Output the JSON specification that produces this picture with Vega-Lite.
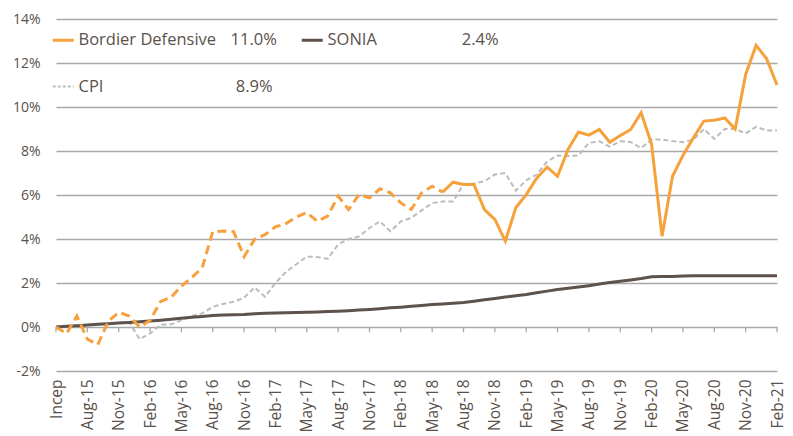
{
  "$schema": "https://vega.github.io/schema/vega-lite/v6.json",
  "width": 721,
  "height": 352,
  "autosize": {"type": "none"},
  "padding": {"left": 56, "top": 19, "right": 16, "bottom": 65},
  "config": {
    "view": {"stroke": null},
    "font": "Open Sans",
    "axis": {"labelFont": "Open Sans", "labelColor": "#5a514b", "labelFontSize": 14, "title": null}
  },
  "data": {
    "values": [
      {"m": "Incep", "i": 0, "Bordier Defensive": 0.0, "CPI": 0.0, "SONIA": 0.0},
      {"m": "Jun-15", "i": 1, "Bordier Defensive": -0.3, "CPI": 0.05, "SONIA": 0.03},
      {"m": "Jul-15", "i": 2, "Bordier Defensive": 0.5, "CPI": 0.0, "SONIA": 0.06},
      {"m": "Aug-15", "i": 3, "Bordier Defensive": -0.55, "CPI": 0.1, "SONIA": 0.09},
      {"m": "Sep-15", "i": 4, "Bordier Defensive": -0.8, "CPI": 0.12, "SONIA": 0.12},
      {"m": "Oct-15", "i": 5, "Bordier Defensive": 0.25, "CPI": 0.15, "SONIA": 0.15},
      {"m": "Nov-15", "i": 6, "Bordier Defensive": 0.67, "CPI": 0.2, "SONIA": 0.18},
      {"m": "Dec-15", "i": 7, "Bordier Defensive": 0.5, "CPI": 0.22, "SONIA": 0.21},
      {"m": "Jan-16", "i": 8, "Bordier Defensive": 0.0, "CPI": -0.55, "SONIA": 0.24},
      {"m": "Feb-16", "i": 9, "Bordier Defensive": 0.3, "CPI": -0.3, "SONIA": 0.27},
      {"m": "Mar-16", "i": 10, "Bordier Defensive": 1.15, "CPI": 0.1, "SONIA": 0.31},
      {"m": "Apr-16", "i": 11, "Bordier Defensive": 1.35, "CPI": 0.12, "SONIA": 0.35},
      {"m": "May-16", "i": 12, "Bordier Defensive": 1.85, "CPI": 0.3, "SONIA": 0.4},
      {"m": "Jun-16", "i": 13, "Bordier Defensive": 2.25, "CPI": 0.5, "SONIA": 0.44},
      {"m": "Jul-16", "i": 14, "Bordier Defensive": 2.7, "CPI": 0.62, "SONIA": 0.48},
      {"m": "Aug-16", "i": 15, "Bordier Defensive": 4.33, "CPI": 0.92, "SONIA": 0.52},
      {"m": "Sep-16", "i": 16, "Bordier Defensive": 4.36, "CPI": 1.05, "SONIA": 0.55},
      {"m": "Oct-16", "i": 17, "Bordier Defensive": 4.33, "CPI": 1.15, "SONIA": 0.56},
      {"m": "Nov-16", "i": 18, "Bordier Defensive": 3.2, "CPI": 1.33, "SONIA": 0.57},
      {"m": "Dec-16", "i": 19, "Bordier Defensive": 3.98, "CPI": 1.8, "SONIA": 0.6},
      {"m": "Jan-17", "i": 20, "Bordier Defensive": 4.2, "CPI": 1.37, "SONIA": 0.62},
      {"m": "Feb-17", "i": 21, "Bordier Defensive": 4.55, "CPI": 2.0, "SONIA": 0.64},
      {"m": "Mar-17", "i": 22, "Bordier Defensive": 4.7, "CPI": 2.5, "SONIA": 0.65},
      {"m": "Apr-17", "i": 23, "Bordier Defensive": 5.0, "CPI": 2.85, "SONIA": 0.66},
      {"m": "May-17", "i": 24, "Bordier Defensive": 5.2, "CPI": 3.2, "SONIA": 0.67},
      {"m": "Jun-17", "i": 25, "Bordier Defensive": 4.81, "CPI": 3.18, "SONIA": 0.68},
      {"m": "Jul-17", "i": 26, "Bordier Defensive": 5.04, "CPI": 3.1, "SONIA": 0.7},
      {"m": "Aug-17", "i": 27, "Bordier Defensive": 5.95, "CPI": 3.75, "SONIA": 0.72},
      {"m": "Sep-17", "i": 28, "Bordier Defensive": 5.34, "CPI": 4.0, "SONIA": 0.74},
      {"m": "Oct-17", "i": 29, "Bordier Defensive": 6.02, "CPI": 4.12, "SONIA": 0.77},
      {"m": "Nov-17", "i": 30, "Bordier Defensive": 5.87, "CPI": 4.5, "SONIA": 0.8},
      {"m": "Dec-17", "i": 31, "Bordier Defensive": 6.28, "CPI": 4.8, "SONIA": 0.83},
      {"m": "Jan-18", "i": 32, "Bordier Defensive": 6.1, "CPI": 4.35, "SONIA": 0.87},
      {"m": "Feb-18", "i": 33, "Bordier Defensive": 5.64, "CPI": 4.8, "SONIA": 0.9},
      {"m": "Mar-18", "i": 34, "Bordier Defensive": 5.34, "CPI": 4.96, "SONIA": 0.94},
      {"m": "Apr-18", "i": 35, "Bordier Defensive": 6.1, "CPI": 5.3, "SONIA": 0.98},
      {"m": "May-18", "i": 36, "Bordier Defensive": 6.4, "CPI": 5.64, "SONIA": 1.02},
      {"m": "Jun-18", "i": 37, "Bordier Defensive": 6.13, "CPI": 5.7, "SONIA": 1.05},
      {"m": "Jul-18", "i": 38, "Bordier Defensive": 6.58, "CPI": 5.7, "SONIA": 1.08},
      {"m": "Aug-18", "i": 39, "Bordier Defensive": 6.48, "CPI": 6.5, "SONIA": 1.11},
      {"m": "Sep-18", "i": 40, "Bordier Defensive": 6.48, "CPI": 6.52, "SONIA": 1.17},
      {"m": "Oct-18", "i": 41, "Bordier Defensive": 5.34, "CPI": 6.63, "SONIA": 1.24},
      {"m": "Nov-18", "i": 42, "Bordier Defensive": 4.89, "CPI": 6.93, "SONIA": 1.3},
      {"m": "Dec-18", "i": 43, "Bordier Defensive": 3.9, "CPI": 7.0, "SONIA": 1.36},
      {"m": "Jan-19", "i": 44, "Bordier Defensive": 5.42, "CPI": 6.2, "SONIA": 1.42},
      {"m": "Feb-19", "i": 45, "Bordier Defensive": 6.02, "CPI": 6.67, "SONIA": 1.48},
      {"m": "Mar-19", "i": 46, "Bordier Defensive": 6.76, "CPI": 6.93, "SONIA": 1.56},
      {"m": "Apr-19", "i": 47, "Bordier Defensive": 7.27, "CPI": 7.52, "SONIA": 1.63},
      {"m": "May-19", "i": 48, "Bordier Defensive": 6.85, "CPI": 7.8, "SONIA": 1.7},
      {"m": "Jun-19", "i": 49, "Bordier Defensive": 8.07, "CPI": 7.77, "SONIA": 1.76},
      {"m": "Jul-19", "i": 50, "Bordier Defensive": 8.86, "CPI": 7.8, "SONIA": 1.82},
      {"m": "Aug-19", "i": 51, "Bordier Defensive": 8.72, "CPI": 8.37, "SONIA": 1.88},
      {"m": "Sep-19", "i": 52, "Bordier Defensive": 8.98, "CPI": 8.44, "SONIA": 1.95},
      {"m": "Oct-19", "i": 53, "Bordier Defensive": 8.4, "CPI": 8.2, "SONIA": 2.02},
      {"m": "Nov-19", "i": 54, "Bordier Defensive": 8.7, "CPI": 8.44, "SONIA": 2.08},
      {"m": "Dec-19", "i": 55, "Bordier Defensive": 8.98, "CPI": 8.41, "SONIA": 2.14},
      {"m": "Jan-20", "i": 56, "Bordier Defensive": 9.74, "CPI": 8.14, "SONIA": 2.2},
      {"m": "Feb-20", "i": 57, "Bordier Defensive": 8.3, "CPI": 8.52, "SONIA": 2.28},
      {"m": "Mar-20", "i": 58, "Bordier Defensive": 4.13, "CPI": 8.52, "SONIA": 2.3},
      {"m": "Apr-20", "i": 59, "Bordier Defensive": 6.85, "CPI": 8.45, "SONIA": 2.3},
      {"m": "May-20", "i": 60, "Bordier Defensive": 7.8, "CPI": 8.4, "SONIA": 2.32},
      {"m": "Jun-20", "i": 61, "Bordier Defensive": 8.6, "CPI": 8.52, "SONIA": 2.33},
      {"m": "Jul-20", "i": 62, "Bordier Defensive": 9.36, "CPI": 9.0, "SONIA": 2.33},
      {"m": "Aug-20", "i": 63, "Bordier Defensive": 9.4, "CPI": 8.55, "SONIA": 2.33},
      {"m": "Sep-20", "i": 64, "Bordier Defensive": 9.5, "CPI": 9.0, "SONIA": 2.33},
      {"m": "Oct-20", "i": 65, "Bordier Defensive": 9.0, "CPI": 9.0, "SONIA": 2.33},
      {"m": "Nov-20", "i": 66, "Bordier Defensive": 11.48, "CPI": 8.8, "SONIA": 2.33},
      {"m": "Dec-20", "i": 67, "Bordier Defensive": 12.8, "CPI": 9.1, "SONIA": 2.33},
      {"m": "Jan-21", "i": 68, "Bordier Defensive": 12.2, "CPI": 8.93, "SONIA": 2.33},
      {"m": "Feb-21", "i": 69, "Bordier Defensive": 11.0, "CPI": 8.93, "SONIA": 2.33}
    ]
  },
  "transform": [{"fold": ["Bordier Defensive", "SONIA", "CPI"], "as": ["series", "v"]}],
  "resolve": {"axis": {"x": "independent"}},
  "layer": [
    {
      "transform": [{"filter": "datum.series === 'SONIA' && datum.i % 3 === 0"}],
      "mark": {"type": "rule", "color": "#a8a8a8", "strokeWidth": 1.3},
      "encoding": {
        "x": {"field": "i", "type": "quantitative", "axis": null},
        "y": {"datum": 0, "type": "quantitative"},
        "y2": {"datum": -0.24}
      }
    },
    {
      "transform": [{"filter": "datum.series === 'CPI'"}],
      "mark": {"type": "line", "strokeWidth": 2, "strokeDash": [5, 3]},
      "encoding": {
        "x": {
          "field": "i", "type": "quantitative",
          "scale": {"domain": [0, 69], "nice": false, "zero": false},
          "axis": {
            "orient": "bottom",
            "values": [0, 3, 6, 9, 12, 15, 18, 21, 24, 27, 30, 33, 36, 39, 42, 45, 48, 51, 54, 57, 60, 63, 66, 69],
            "labelExpr": "datum.value == 0 ? 'Incep' : ['Jan','Feb','Mar','Apr','May','Jun','Jul','Aug','Sep','Oct','Nov','Dec'][(datum.value + 4) % 12] + '-' + (15 + floor((datum.value + 4) / 12))",
            "labelAngle": -90, "labelPadding": 8, "ticks": false, "domain": false, "grid": false,
            "labelOverlap": false, "labelFontSize": 15.5
          }
        },
        "y": {
          "field": "v", "type": "quantitative",
          "scale": {"domain": [-2, 14], "nice": false, "zero": false},
          "axis": {
            "values": [-2, 0, 2, 4, 6, 8, 10, 12, 14],
            "labelExpr": "datum.value + '%'",
            "grid": true, "gridColor": "#a8a8a8", "gridWidth": 1.3,
            "domain": false, "ticks": false, "labelPadding": 16
          }
        },
        "color": {
          "field": "series", "type": "nominal",
          "scale": {"domain": ["Bordier Defensive", "SONIA", "CPI"], "range": ["#F6A13C", "#5d524c", "#bcbcbc"]},
          "legend": {
            "orient": "none", "legendX": -1, "legendY": 12.75,
            "direction": "horizontal", "columns": 2, "title": null,
            "symbolType": "stroke", "symbolSize": 441, "symbolStrokeWidth": 3,
            "labelFontSize": 16.5, "labelColor": "#5a514b", "labelFont": "Open Sans",
            "labelOffset": 7, "columnPadding": 78, "rowPadding": 29.5, "padding": 0,
            "encode": {"symbols": {"update": {"strokeDash": {"signal": "datum.value === 'CPI' ? [3, 2] : [1, 0]"}, "strokeWidth": {"signal": "datum.value === 'CPI' ? 2 : 3"}}}}
          }
        }
      }
    },
    {
      "transform": [{"filter": "datum.series === 'SONIA'"}],
      "mark": {"type": "line", "strokeWidth": 3},
      "encoding": {
        "x": {"field": "i", "type": "quantitative", "axis": null},
        "y": {"field": "v", "type": "quantitative"},
        "color": {"field": "series", "type": "nominal"}
      }
    },
    {
      "transform": [{"filter": "datum.series === 'Bordier Defensive' && datum.i <= 37"}],
      "mark": {"type": "line", "strokeWidth": 3, "strokeDash": [9, 5]},
      "encoding": {
        "x": {"field": "i", "type": "quantitative", "axis": null},
        "y": {"field": "v", "type": "quantitative"},
        "color": {"field": "series", "type": "nominal"}
      }
    },
    {
      "transform": [{"filter": "datum.series === 'Bordier Defensive' && datum.i >= 37"}],
      "mark": {"type": "line", "strokeWidth": 3},
      "encoding": {
        "x": {"field": "i", "type": "quantitative", "axis": null},
        "y": {"field": "v", "type": "quantitative"},
        "color": {"field": "series", "type": "nominal"}
      }
    },
    {
      "data": {"values": [{"label": "11.0%"}]},
      "mark": {"type": "text", "fontSize": 16.5, "color": "#5a514b", "font": "Open Sans"},
      "encoding": {
        "x": {"datum": 18.92, "type": "quantitative", "axis": null},
        "y": {"datum": 13.06, "type": "quantitative"},
        "text": {"field": "label"}
      }
    },
    {
      "data": {"values": [{"label": "8.9%"}]},
      "mark": {"type": "text", "fontSize": 16.5, "color": "#5a514b", "font": "Open Sans"},
      "encoding": {
        "x": {"datum": 18.96, "type": "quantitative", "axis": null},
        "y": {"datum": 10.9, "type": "quantitative"},
        "text": {"field": "label"}
      }
    },
    {
      "data": {"values": [{"label": "2.4%"}]},
      "mark": {"type": "text", "fontSize": 16.5, "color": "#5a514b", "font": "Open Sans"},
      "encoding": {
        "x": {"datum": 40.6, "type": "quantitative", "axis": null},
        "y": {"datum": 13.06, "type": "quantitative"},
        "text": {"field": "label"}
      }
    }
  ]
}
